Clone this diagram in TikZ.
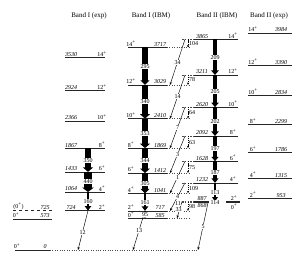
\documentclass[tikz,border=0pt]{standalone}
\usepackage{fontspec}
\setmainfont{Liberation Serif}
\usetikzlibrary{arrows.meta}
\newcommand\yy[1]{(250-0.0545*#1)}
\newcommand\lf{\fontsize{6}{7}\selectfont}
\newcommand\spn[1]{#1\textsuperscript{+}}
\begin{document}
\begin{tikzpicture}[x=1pt,y=-1pt,
  lev/.style={line width=0.5pt, black!85},
  extdot/.style={line width=0.4pt, black!70, dotted},
  extdash/.style={line width=0.4pt, black!70, dash pattern=on 1.6pt off 1.2pt},
  title/.style={font=\fontsize{7}{8}\selectfont, inner sep=0pt},
  elab/.style={font=\lf\itshape, anchor=south, inner sep=0.8pt},
  elabn/.style={font=\lf\itshape, anchor=north, inner sep=0.8pt},
  slab/.style={font=\lf, anchor=south, inner sep=0.8pt},
  slabn/.style={font=\lf, anchor=north, inner sep=0.8pt},
  bar/.style n args={2}{line width=#1pt, -{Triangle[length=4.5pt 0 0, width=#2pt 0 0]}},
  blab/.style={font=\lf, fill=white, inner sep=0.5pt, midway},
  wlab/.style={font=\lf, fill=white, inner sep=0.4pt},
  thinar/.style={line width=0.45pt, -{Stealth[length=3pt, width=2.4pt]}},
  sdash/.style={line width=0.45pt, dash pattern=on 1.2pt off 0.9pt, -{Stealth[length=2.4pt, width=2pt]}},
  rlab/.style={font=\lf, midway, anchor=west, inner sep=1pt}
]
\useasboundingbox (0,0) rectangle (299,259);

% titles
\node[title] (t1) at (89,16) {Band I (exp)};
\node[title] (t2) at (151,16) {Band I (IBM)};
\node[title] (t3) at (217,16) {Band II (IBM)};
\node[title] (t4) at (269,16) {Band II (exp)};

% Band I (exp)
\foreach \E/\J in {3530/14,2924/12,2366/10,1867/8,1433/6,1064/4,724/2}{
  \draw[lev] (65,{\yy{\E}}) -- (105,{\yy{\E}});
  \node[elab] (IeE\J) at (71,{\yy{\E}}) {\E};
  \node[slab] (IeS\J) at (102,{\yy{\E}}) {\spn{\J}};
  \coordinate (Ie\J) at (88,{\yy{\E}});
}
% other 0+ states
\draw[lev, dashed] (13,{\yy{725}}) -- (52,{\yy{725}});
\node[slab] (x725s) at (18.5,{\yy{725}}) {(\spn{0})};
\node[elab] (x725e) at (45,{\yy{725}}) {725};
\draw[lev] (13,{\yy{573}}) -- (52,{\yy{573}});
\node[slab] (x573s) at (16,{\yy{573}}) {\spn{0}};
\node[elab] (x573e) at (45,{\yy{573}}) {573};
\draw[lev] (15,250) -- (50,250);
\draw[extdot] (50,250) -- (198,250);
\node[slab] (x0s) at (17,250) {\spn{0}};
\node[elab] (x0e) at (45,250) {0};
\coordinate (g12) at (78,250);
\coordinate (g13) at (133,250);
\coordinate (g5) at (198,250);

% Band I (IBM)
\foreach \E/\J in {3717/14,3029/12,2410/10,1869/8,1412/6,1041/4,717/2,585/0}{
  \draw[lev] (128,{\yy{\E}}) -- (167,{\yy{\E}});
  \draw[extdot] (167,{\yy{\E}}) -- (190,{\yy{\E}});
  \node[slab] (ImS\J) at (131,{\yy{\E}}) {\spn{\J}};
  \node[elab] (ImE\J) at (160,{\yy{\E}}) {\E};
  \coordinate (Im\J) at (145,{\yy{\E}});
  \coordinate (Im\J r) at (170,{\yy{\E}});
  \coordinate (Im\J d) at (188,{\yy{\E}});
}
\coordinate (Im0x) at (177,{\yy{585}});

% Band II (IBM)
\foreach \E/\J in {3865/14,3211/12,2620/10,2092/8,1628/6,1232/4}{
  \draw[lev] (194,{\yy{\E}}) -- (238,{\yy{\E}});
  \draw[extdash] (182,{\yy{\E}}) -- (194,{\yy{\E}});
  \node[elab] (IImE\J) at (202,{\yy{\E}}) {\E};
  \node[slab] (IImS\J) at (233,{\yy{\E}}) {\spn{\J}};
  \coordinate (IIm\J) at (215,{\yy{\E}});
  \coordinate (IIm\J s) at (185,{\yy{\E}});
  \coordinate (IIm\J d) at (188,{\yy{\E}});
}
\foreach \E in {887,868}{
  \draw[lev] (194,{\yy{\E}}) -- (209,{\yy{\E}});
  \draw[lev] (226,{\yy{\E}}) -- (240,{\yy{\E}});
  \draw[extdash] (182,{\yy{\E}}) -- (194,{\yy{\E}});
}
\node[elab] (IImE2) at (202,{\yy{887}}) {887};
\node[elabn] (IImE0) at (202,{\yy{868}}) {868};
\node[slab] (IImS2) at (234,{\yy{887}}) {\spn{2}};
\node[slabn] (IImS0) at (234,{\yy{868}}) {\spn{0}};
\coordinate (IIm2) at (215,{\yy{887}});
\coordinate (IIm2s) at (182,{\yy{887}});
\coordinate (IIm2d) at (188,{\yy{887}});
\coordinate (IIm2g) at (208,{\yy{868}});

% Band II (exp)
\foreach \E/\J in {3984/14,3390/12,2834/10,2299/8,1786/6,1315/4,953/2}{
  \draw[lev] (248,{\yy{\E}}) -- (292,{\yy{\E}});
  \node[slab] (IIeS\J) at (253,{\yy{\E}}) {\spn{\J}};
  \node[elab] (IIeE\J) at (281,{\yy{\E}}) {\E};
}

% ground transitions
\draw[thinar] (Ie2) -- node[wlab, pos=0.55] (l12) {12} (g12);
\draw[thinar] (Im2) -- node[wlab, pos=0.5] (l13) {13} (g13);
\draw[thinar] (IIm2g) -- node[wlab, pos=0.5] (l5) {5} (g5);

% bars Band I (exp)
\draw[bar={6.4}{9.9}] (Ie8) -- node[blab] (b350) {350} (Ie6);
\draw[bar={8.0}{11.5}] (Ie6) -- node[blab] (b440) {440} (Ie4);
\draw[bar={2.9}{6.4}] (Ie4) -- node[blab] (b160) {160} (Ie2);

% bars Band I (IBM)
\draw[bar={5.4}{8.9}] (Im14) -- node[blab] (b295) {295} (Im12);
\draw[bar={6.2}{9.7}] (Im12) -- node[blab] (b340) {340} (Im10);
\draw[bar={6.4}{9.9}] (Im10) -- node[blab] (b353) {353} (Im8);
\draw[bar={6.3}{9.8}] (Im8) -- node[blab] (b344) {344} (Im6);
\draw[bar={5.5}{9.0}] (Im6) -- node[blab] (b305) {305} (Im4);
\draw[bar={2.9}{6.4}] (Im4) -- node[blab] (b161) {161} (Im2);
\draw[bar={1.7}{5.2}] (Im2) -- node[blab] (b95) {95} (Im0);

% bars Band II (IBM)
\draw[bar={3.8}{7.3}] (IIm14) -- node[blab] (b209) {209} (IIm12);
\draw[bar={3.7}{7.2}] (IIm12) -- node[blab] (b205) {205} (IIm10);
\draw[bar={3.7}{7.2}] (IIm10) -- node[blab] (b202) {202} (IIm8);
\draw[bar={3.6}{7.1}] (IIm8) -- node[blab] (b197) {197} (IIm6);
\draw[bar={3.4}{6.9}] (IIm6) -- node[blab] (b187) {187} (IIm4);
\draw[bar={2.1}{5.6}] (IIm4) -- node[blab] (b113) {113} (IIm2);
\node[wlab] (b114) at (215,{\yy{877}}) {114};

% interband transitions
\foreach \J/\K/\a/\b in {14/12/104/34, 12/10/78/14, 10/8/64/7, 8/6/63/3, 6/4/75/1, 4/2/109/4}{
  \draw[sdash] (IIm\J d) -- node[rlab] (ld\J) {\a} (Im\J d);
  \draw[thinar] (IIm\J s) -- node[wlab, midway] (ls\J) {\b} (Im\K r);
}
\draw[sdash] (IIm2d) -- node[rlab] (ld2) {98} (Im2d);
\draw[thinar] (IIm2s) -- (Im0x);
\node[wlab] (l11) at (178,{\yy{850}}) {11};
\node[wlab] (l33) at (178.5,{\yy{740}}) {33};
\end{tikzpicture}
\end{document}
